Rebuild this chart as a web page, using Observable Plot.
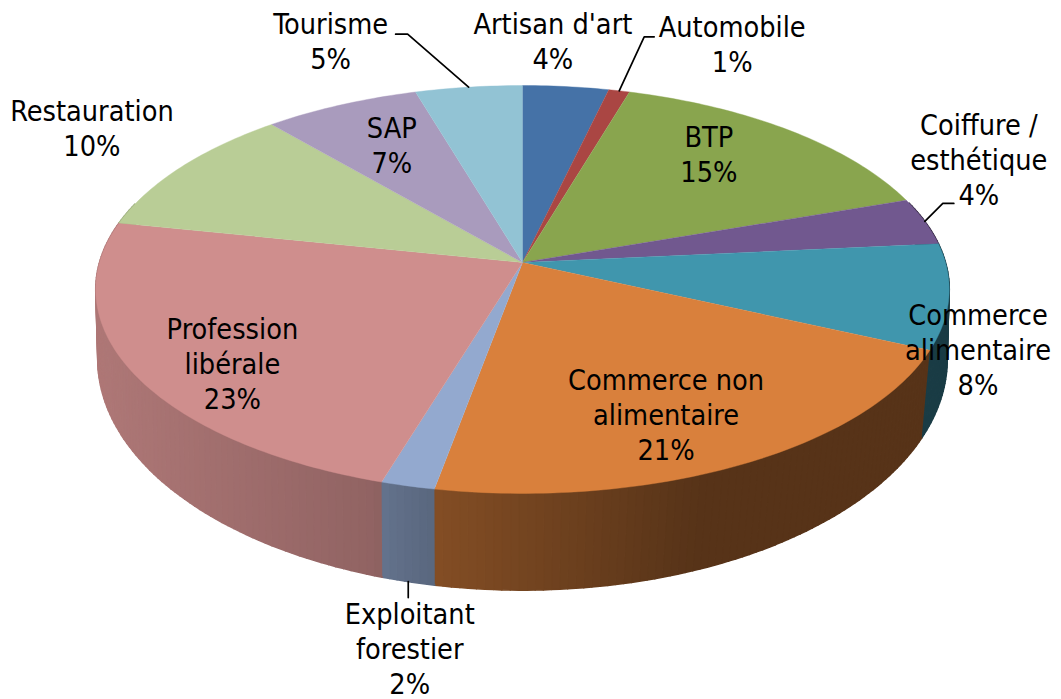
<!DOCTYPE html>
<html><head><meta charset="utf-8">
<script src="https://cdn.jsdelivr.net/npm/d3@7"></script>
<script src="https://cdn.jsdelivr.net/npm/@observablehq/plot@0.6"></script>
<style>html,body{margin:0;padding:0;background:#fff}svg{display:block}</style>
</head><body><div id="chart"></div>
<script>
const categories = ["Artisan d'art","Automobile","BTP","Coiffure /\nesthétique","Commerce\nalimentaire","Commerce non\nalimentaire","Exploitant\nforestier","Profession\nlibérale","Restauration","SAP","Tourisme"];
const percentLabels = [4,1,15,4,8,21,2,23,10,7,5];
const shares = [3.7,0.9,15.15,3.75,8.3,21.1,1.8,23.55,10.44,6.71,4.6];
const colors = ["#4572A7","#AA4643","#89A54E","#71588F","#4096AD","#D9803C","#93A9CF","#CF8E8D","#B9CD96","#A99BBD","#92C3D4"];

// layout (pixels relative to each slice's rim midpoint)
const labelOffsets = [[-13,-46],[113,-48],[-81,23],[54,-63],[29,52],[-78,-50],[2,162],[100,-9],[-89,-40],[51,39],[-138,-47]];
const leaders = {1:[[25,-54],[35,-54]],3:[[18,-18],[29,-18]],6:[[0,16]],10:[[-61,-53],[-73,-53]]};

// 3D projection of the pie disc
const cx = 522, cy = 262, k = 0.1323;
const top_ = {a: cy, A: 423, B: 200.4};
const low = {a: 328, A: 421, B: 227};
const rad = p => p / 100 * 2 * Math.PI;
const rim = (p, r = top_) => {
  const t = rad(p), w = 1 + k * Math.cos(t);
  return [cx + r.A * Math.sin(t) / w, r.a - r.B * Math.cos(t) / w];
};
// the bottom rim leans slightly toward the front on the right-hand side
const rimLow = p => rim(p + Math.max(0, 50 - p) * 0.038, low);
const cum = d3.cumsum(shares);
const starts = shares.map((_, i) => i ? cum[i - 1] : 0);
const shade = d3.scaleLinear().domain([100, 370, 400, 440, 700, 950]).range([.84, .70, .65, .60, .40, .40]).clamp(true);
const darken = (c, f) => { const o = d3.rgb(c); return d3.rgb(o.r * f, o.g * f, o.b * f).formatHex(); };

const tops = [], sides = [];
shares.forEach((s, i) => {
  const n = Math.max(2, Math.ceil(s * 3.6));
  tops.push({key: i, fill: colors[i], x: cx, y: cy});
  for (let j = 0; j <= n; j++) {
    const [x, y] = rim(starts[i] + s * j / n);
    tops.push({key: i, fill: colors[i], x, y});
  }
  for (let j = 0; j < n; j++) {
    const p0 = starts[i] + s * j / n, p1 = starts[i] + s * (j + 1) / n, mid = (p0 + p1) / 2;
    if (mid < 20 || mid > 80) continue;
    const key = `${i}-${j}`, fill = darken(colors[i], shade(rim(mid)[0]));
    [rim(p0), rim(p1), rimLow(p1), rimLow(p0)].forEach(([x, y]) => sides.push({key, fill, x, y}));
  }
});

const mids = shares.map((s, i) => starts[i] + s / 2);
const labels = categories.map((c, i) => {
  const [x, y] = rim(mids[i]);
  return {text: `${c}\n${percentLabels[i]}%`, x: x + labelOffsets[i][0], y: y + labelOffsets[i][1]};
});
const leaderPts = [];
Object.entries(leaders).forEach(([i, off]) => {
  const base = +i === 6 ? rim(mids[i], low) : rim(mids[i]);
  leaderPts.push({key: i, x: base[0], y: base[1]});
  off.forEach(([dx, dy]) => leaderPts.push({key: i, x: base[0] + dx, y: base[1] + dy}));
});

const chart = Plot.plot({
  width: 1061, height: 699, margin: 0,
  x: {domain: [0, 1061], range: [0, 1061], axis: null},
  y: {domain: [0, 699], range: [0, 699], axis: null},
  style: {background: "#fff"},
  marks: [
    Plot.line(sides, {x: "x", y: "y", z: "key", fill: "fill", stroke: "fill", strokeWidth: 1.6}),
    Plot.line(tops, {x: "x", y: "y", z: "key", fill: "fill", stroke: "fill", strokeWidth: 0.4}),
    Plot.line(leaderPts, {x: "x", y: "y", z: "key", stroke: "#000", strokeWidth: 1.7}),
    Plot.text(labels, {x: "x", y: "y", text: "text", fontSize: 28.6, lineHeight: 1.224, fill: "#000",
      textAnchor: "middle", lineAnchor: "middle", fontFamily: "'DejaVu Sans Condensed','DejaVu Sans',sans-serif"})
  ]
});
document.getElementById("chart").appendChild(chart);
</script></body></html>
